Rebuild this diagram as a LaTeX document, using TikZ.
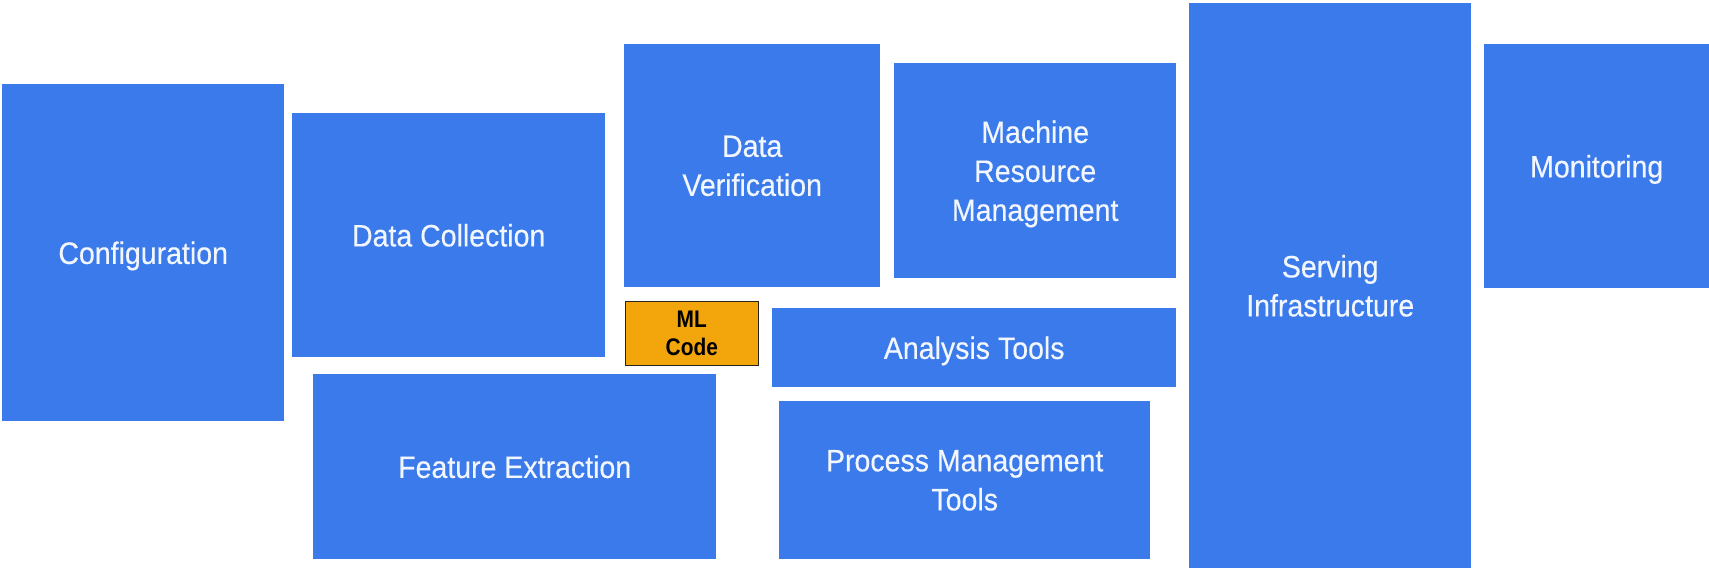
\documentclass[tikz,border=0pt]{standalone}
\usepackage{fontspec}
\newfontfamily\mainf[FakeStretch=0.92,FakeBold=0.4]{Liberation Sans}
\newfontfamily\mlf[FakeStretch=0.87]{Liberation Sans Bold}
\definecolor{gblue}{HTML}{3A7AEA}
\definecolor{mlorange}{HTML}{F2A60C}
\definecolor{txtw}{HTML}{F2F6FE}
\definecolor{mlborder}{HTML}{2A2420}
\tikzset{
  blk/.style={fill=gblue, draw=none, anchor=north west, inner sep=0pt, text depth=0pt,
    align=center, text=txtw, font=\mainf\fontsize{31}{39}\selectfont},
  mlbox/.style={fill=mlorange, draw=mlborder, line width=1.6pt, anchor=north west,
    inner sep=0pt, text depth=0pt, align=center, text=black, font=\mlf\fontsize{24}{28.5}\selectfont}
}
\begin{document}
\begin{tikzpicture}[x=1pt,y=-1pt]
\useasboundingbox (0,0) rectangle (1709,570);
\node[blk, minimum width=282pt, minimum height=337pt] (config) at (2,84) {Configuration};
\node[blk, minimum width=313pt, minimum height=244pt] (collect) at (292,113) {Data Collection};
\node[blk, minimum width=403pt, minimum height=185pt] (feature) at (313,374) {Feature Extraction};
\node[blk, minimum width=256pt, minimum height=243pt] (verif) at (624,44) {Data\\Verification};
\node[mlbox, minimum width=133pt, minimum height=64pt] (ml) at (624.5,300.5) {ML\\Code};
\node[blk, minimum width=282pt, minimum height=215pt] (mrm) at (894,63) {Machine\\Resource\\Management};
\node[blk, minimum width=404pt, minimum height=79pt] (analysis) at (772,308) {Analysis Tools};
\node[blk, minimum width=371pt, minimum height=158pt] (process) at (779,401) {Process Management\\Tools};
\node[blk, minimum width=282pt, minimum height=565pt] (serving) at (1189,3) {Serving\\Infrastructure};
\node[blk, minimum width=225pt, minimum height=244pt] (monitor) at (1484,44) {Monitoring};
\end{tikzpicture}
\end{document}
